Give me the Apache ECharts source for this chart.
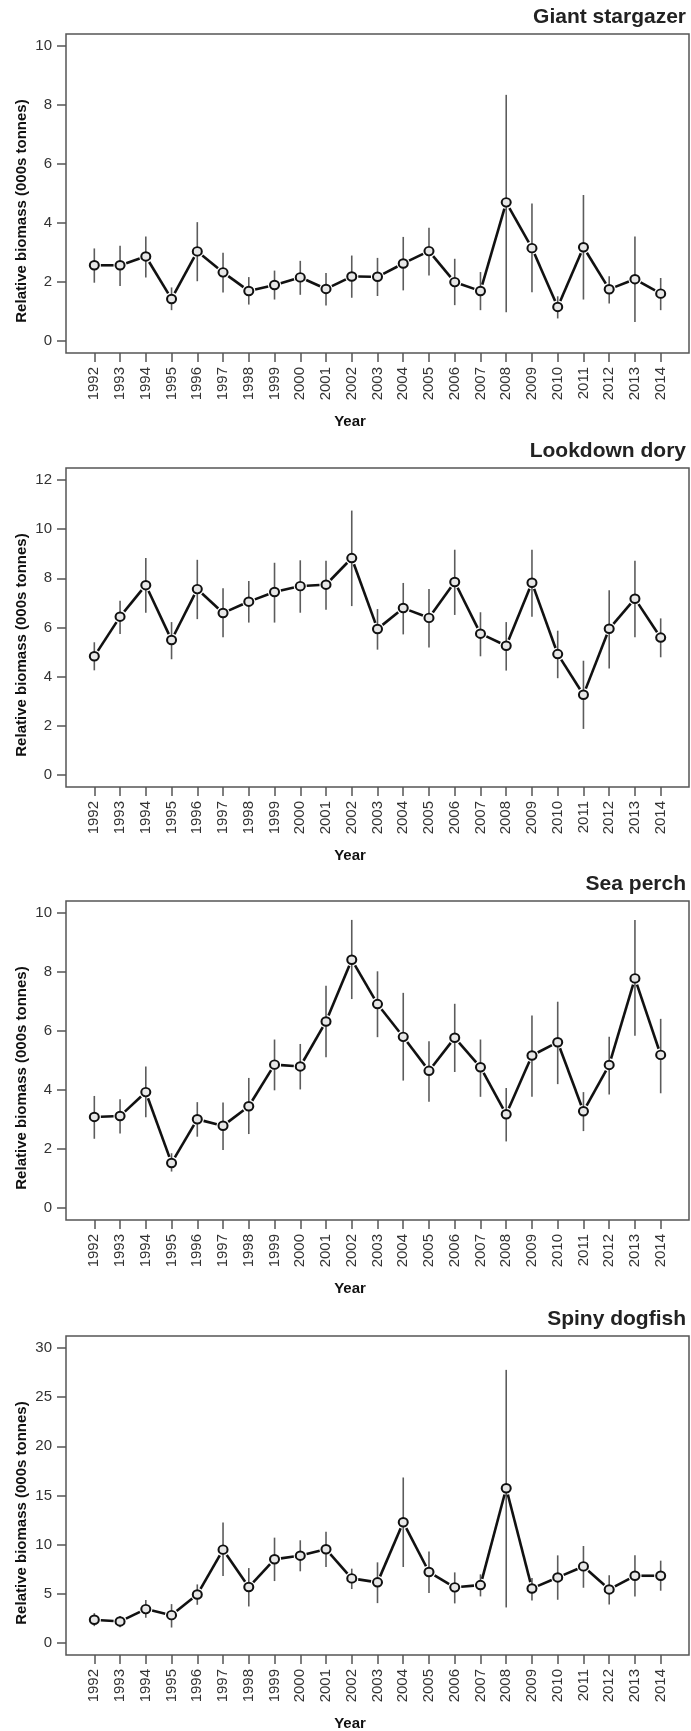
<!DOCTYPE html>
<html>
<head>
<meta charset="utf-8">
<script src="https://cdn.jsdelivr.net/npm/echarts@6/dist/echarts.min.js"></script>
<style>
html,body{margin:0;padding:0;background:#fff;}
#chart{width:691px;height:1731px;}
</style>
</head>
<body>
<div id="chart"></div>
<script>
const years = [1992,1993,1994,1995,1996,1997,1998,1999,2000,2001,2002,2003,2004,2005,2006,2007,2008,2009,2010,2011,2012,2013,2014];

const titles = ["Giant stargazer", "Lookdown dory", "Sea perch", "Spiny dogfish"];

const stargazerEst = [2.57,2.57,2.87,1.43,3.04,2.33,1.70,1.90,2.16,1.77,2.19,2.18,2.63,3.05,2.00,1.70,4.70,3.15,1.16,3.18,1.76,2.10,1.61];
const stargazerLo  = [1.98,1.87,2.16,1.05,2.03,1.65,1.24,1.41,1.57,1.21,1.47,1.53,1.72,2.22,1.22,1.05,0.98,1.66,0.77,1.41,1.28,0.65,1.05];
const stargazerHi  = [3.14,3.23,3.54,1.82,4.03,2.99,2.17,2.39,2.72,2.31,2.90,2.82,3.53,3.84,2.79,2.34,8.34,4.66,1.52,4.95,2.20,3.54,2.14];

const doryEst = [4.83,6.44,7.72,5.49,7.56,6.59,7.05,7.44,7.68,7.74,8.82,5.94,6.79,6.39,7.85,5.75,5.26,7.82,4.92,3.27,5.95,7.17,5.59];
const doryLo  = [4.26,5.74,6.60,4.71,6.34,5.60,6.20,6.20,6.60,6.72,6.87,5.10,5.72,5.19,6.51,4.83,4.25,6.44,3.94,1.88,4.33,5.60,4.79];
const doryHi  = [5.40,7.09,8.82,6.22,8.75,7.59,7.89,8.63,8.73,8.71,10.75,6.75,7.81,7.56,9.16,6.62,6.22,9.16,5.87,4.65,7.51,8.71,6.37];

const perchEst = [3.09,3.12,3.93,1.53,3.01,2.79,3.45,4.86,4.80,6.32,8.41,6.91,5.80,4.65,5.77,4.77,3.18,5.17,5.62,3.28,4.85,7.78,5.19];
const perchLo  = [2.35,2.53,3.08,1.24,2.42,1.97,2.51,3.99,4.02,5.11,7.08,5.79,4.32,3.60,4.61,3.77,2.26,3.77,4.20,2.61,3.85,5.84,3.89];
const perchHi  = [3.80,3.69,4.80,1.86,3.59,3.58,4.41,5.71,5.56,7.53,9.76,8.02,7.29,5.65,6.92,5.71,4.07,6.52,6.99,3.93,5.80,9.76,6.41];

const dogfishEst = [2.38,2.21,3.46,2.85,4.95,9.50,5.70,8.52,8.89,9.54,6.58,6.18,12.28,7.23,5.67,5.90,15.74,5.56,6.68,7.80,5.46,6.85,6.85];
const dogfishLo  = [1.73,1.63,2.58,1.59,3.90,6.82,3.73,6.31,7.30,7.74,5.50,4.07,7.74,5.09,4.04,4.75,3.63,4.34,4.41,5.63,3.94,4.75,5.33];
const dogfishHi  = [3.05,2.75,4.38,3.97,5.97,12.25,7.63,10.72,10.45,11.33,7.57,8.21,16.83,9.30,7.19,6.99,27.76,6.62,8.92,9.87,6.89,8.92,8.38];

const yTicks1 = [0,2,4,6,8,10];
const yTicks2 = [0,2,4,6,8,10,12];
const yTicks3 = [0,2,4,6,8,10];
const yTicks4 = [0,5,10,15,20,25,30];

const yLabel = "Relative biomass (000s tonnes)";
const xLabel = "Year";

const panels = [
  {title: titles[0], est: stargazerEst, lo: stargazerLo, hi: stargazerHi, ticks: yTicks1, ymin: -0.4, ymax: 10.4, top: 34},
  {title: titles[1], est: doryEst, lo: doryLo, hi: doryHi, ticks: yTicks2, ymin: -0.48, ymax: 12.48, top: 468},
  {title: titles[2], est: perchEst, lo: perchLo, hi: perchHi, ticks: yTicks3, ymin: -0.4, ymax: 10.4, top: 901},
  {title: titles[3], est: dogfishEst, lo: dogfishLo, hi: dogfishHi, ticks: yTicks4, ymin: -1.2, ymax: 31.2, top: 1336}
];

const FONT = '"Liberation Sans", Arial, Helvetica, sans-serif';
const GRID_LEFT = 66, GRID_W = 623, GRID_H = 319;
const FRAME = '#555';

const grid = [], xAxis = [], yAxis = [], series = [], graphic = [];

panels.forEach((p, k) => {
  grid.push({left: GRID_LEFT, top: p.top, width: GRID_W, height: GRID_H, show: true,
    borderColor: FRAME, borderWidth: 1.5, backgroundColor: 'transparent', containLabel: false});
  xAxis.push({
    type: 'value', gridIndex: k, min: 1990.9, max: 2015.1, position: 'bottom',
    axisLine: {show: false, onZero: false}, splitLine: {show: false},
    axisTick: {show: true, inside: false, length: 9, customValues: years, lineStyle: {color: FRAME, width: 1.5}},
    axisLabel: {show: true, customValues: years, rotate: 90, margin: 14, fontSize: 15,
      fontFamily: FONT, color: '#333', formatter: v => String(v)}
  });
  yAxis.push({
    type: 'value', gridIndex: k, min: p.ymin, max: p.ymax, position: 'left',
    axisLine: {show: false, onZero: false}, splitLine: {show: false},
    axisTick: {show: true, inside: false, length: 9, customValues: p.ticks, lineStyle: {color: FRAME, width: 1.5}},
    axisLabel: {show: true, customValues: p.ticks, margin: 14, fontSize: 15,
      fontFamily: FONT, color: '#333', formatter: v => String(v)}
  });

  // error bars
  series.push({
    type: 'custom', xAxisIndex: k, yAxisIndex: k, z: 2,
    data: years.map((y, i) => [y, p.lo[i], p.hi[i]]),
    encode: {x: 0, y: [1, 2]},
    renderItem: (params, api) => {
      const a = api.coord([api.value(0), api.value(1)]);
      const b = api.coord([api.value(0), api.value(2)]);
      return {type: 'line', shape: {x1: a[0], y1: a[1], x2: b[0], y2: b[1]},
        style: {stroke: '#5c5c5c', lineWidth: 1.6}};
    }
  });

  // connector segments with gaps around markers
  series.push({
    type: 'custom', xAxisIndex: k, yAxisIndex: k, z: 3,
    data: years.slice(0, -1).map((y, i) => [y, p.est[i], years[i + 1], p.est[i + 1]]),
    encode: {x: [0, 2], y: [1, 3]},
    renderItem: (params, api) => {
      const a = api.coord([api.value(0), api.value(1)]);
      const b = api.coord([api.value(2), api.value(3)]);
      const dx = b[0] - a[0], dy = b[1] - a[1];
      const len = Math.sqrt(dx * dx + dy * dy);
      const g = 6.5;
      const ux = dx / len, uy = dy / len;
      return {type: 'line', shape: {x1: a[0] + ux * g, y1: a[1] + uy * g, x2: b[0] - ux * g, y2: b[1] - uy * g},
        style: {stroke: '#111', lineWidth: 2.6}};
    }
  });

  // markers
  series.push({
    type: 'scatter', xAxisIndex: k, yAxisIndex: k, z: 4,
    data: years.map((y, i) => [y, p.est[i]]),
    symbol: 'circle', symbolSize: [9, 8.5],
    itemStyle: {color: '#e8e8e8', borderColor: '#111', borderWidth: 2, opacity: 1}
  });

  // panel title
  graphic.push({type: 'text', x: 686, y: p.top - 16.5, z: 10,
    style: {text: p.title, align: 'right', verticalAlign: 'middle',
      font: 'bold 21px ' + FONT, fill: '#222'}});
  // y axis title
  graphic.push({type: 'text', x: 22, y: p.top + 177, rotation: Math.PI / 2, z: 10,
    style: {text: yLabel, align: 'center', verticalAlign: 'middle',
      font: 'bold 15px ' + FONT, fill: '#111'}});
  // x axis title
  graphic.push({type: 'text', x: 350, y: p.top + GRID_H + 69, z: 10,
    style: {text: xLabel, align: 'center', verticalAlign: 'middle',
      font: 'bold 15px ' + FONT, fill: '#111'}});
});

const chart = echarts.init(document.getElementById('chart'), null, {renderer: 'canvas'});
chart.setOption({
  animation: false,
  backgroundColor: '#fff',
  grid, xAxis, yAxis, series, graphic
});
</script>
</body>
</html>
